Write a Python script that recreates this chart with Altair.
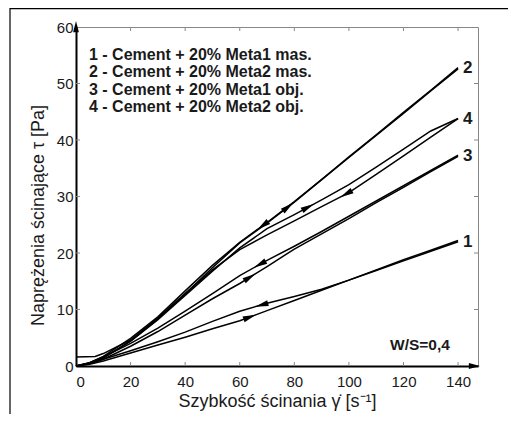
import altair as alt
import numpy as np
import pandas as pd

# ---------------- data ----------------
X = [0, 5, 10, 20, 30, 40, 50, 60, 70, 80, 90, 100, 110, 120, 130, 140]

c1_up = [0, 0.3, 0.9, 2.3, 3.7, 5.1, 6.6, 8.0, 9.8, 11.6, 13.4, 15.2, 16.9, 18.6, 20.3, 22.0]
c1_down = [0, 0.5, 1.2, 2.7, 4.3, 6.0, 7.9, 9.7, 11.1, 12.3, 13.6, 15.2, 17.0, 18.8, 20.5, 22.2]

c2_up = [0, 0.5, 1.5, 4.4, 8.3, 12.8, 17.4, 21.8, 25.3, 29.0, 33.0, 37.0, 40.9, 44.9, 48.8, 52.8]
c2_down = [0, 0.6, 1.7, 4.9, 8.7, 13.3, 17.8, 21.9, 25.4, 29.1, 33.0, 36.9, 40.8, 44.7, 48.7, 52.6]

c3_up = [0, 0.4, 1.2, 3.5, 6.1, 9.0, 11.9, 14.6, 17.6, 20.7, 23.4, 26.1, 28.9, 31.6, 34.4, 37.1]
c3_down = [0, 0.6, 1.6, 4.0, 6.7, 9.7, 12.8, 16.0, 18.7, 21.2, 23.8, 26.5, 29.2, 31.9, 34.6, 37.3]

c4_up = [0, 0.5, 1.4, 4.4, 8.2, 12.5, 16.8, 20.9, 24.3, 26.8, 29.4, 32.1, 35.2, 38.4, 41.6, 43.8]
X4_down = [0, 7, 10, 20, 30, 40, 50, 60, 70, 80, 90, 100, 110, 120, 130, 140]
c4_down = [1.6, 1.7, 2.2, 4.6, 8.5, 12.8, 17.0, 20.6, 23.2, 25.7, 28.2, 30.7, 33.9, 37.2, 40.5, 43.8]

curve_ids = ["1", "2", "3", "4"]
# arrow positions (shear rate) on each branch
arrow_up_x = [63.7, 77.7, 63.7, 85.0]
arrow_down_x = [68.0, 68.5, 67.4, 99.0]

legend_lines = [
    "1 - Cement + 20% Meta1 mas.",
    "2 - Cement + 20% Meta2 mas.",
    "3 - Cement + 20% Meta1 obj.",
    "4 - Cement + 20% Meta2 obj.",
]

X_TICKS = [0, 20, 40, 60, 80, 100, 120, 140]
Y_TICKS = [0, 10, 20, 30, 40, 50, 60]

# ---------------- build tables ----------------
branches = {
    ("1", "up"): (X, c1_up), ("1", "down"): (X, c1_down),
    ("2", "up"): (X, c2_up), ("2", "down"): (X, c2_down),
    ("3", "up"): (X, c3_up), ("3", "down"): (X, c3_down),
    ("4", "up"): (X, c4_up), ("4", "down"): (X4_down, c4_down),
}
rows = []
for (cid, br), (xs_, ys_) in branches.items():
    for xv, yv in zip(xs_, ys_):
        rows.append({"key": cid + br, "x": xv, "y": yv})
df = pd.DataFrame(rows)

W, H = 402, 339
XMAX = 147.3
PXX = W / XMAX
PXY = H / 60.0

arows = []
for i, cid in enumerate(curve_ids):
    for br, ax_ in (("up", arrow_up_x[i]), ("down", arrow_down_x[i])):
        xs_, ys_ = branches[(cid, br)]
        yv = float(np.interp(ax_, xs_, ys_))
        slope = (np.interp(ax_ + 3, xs_, ys_) - np.interp(ax_ - 3, xs_, ys_)) / 6.0
        theta = np.degrees(np.arctan(slope * PXY / PXX))
        ang = (360 - theta) % 360 if br == "up" else (180 - theta) % 360
        arows.append({"x": ax_, "y": yv, "ang": ang})
adf = pd.DataFrame(arows)

ends = pd.DataFrame({
    "x": [140, 140, 140, 140],
    "y": [c1_up[-1], c2_up[-1], c3_up[-1], c4_up[-1]],
    "t": curve_ids,
})

FONT = "Liberation Sans"
xs = alt.Scale(domain=[0, XMAX], nice=False, zero=False)
ys = alt.Scale(domain=[0, 60], nice=False)

lines = alt.Chart(df).mark_line(color="black", strokeWidth=1.5).encode(
    x=alt.X("x:Q", scale=xs, axis=alt.Axis(
        values=X_TICKS, title="Szybkość ścinania \u03b3\u0307 [s\u207b\u00b9]",
        labelPadding=8, titlePadding=3)),
    y=alt.Y("y:Q", scale=ys, axis=alt.Axis(
        values=Y_TICKS, title="Naprężenia ścinające \u03c4 [Pa]",
        labelPadding=3, titlePadding=9, titleY=188)),
    detail="key:N",
    order=alt.Order("x:Q"),
)

ARROW = "M1,0L-1,-0.45L-1,0.45Z"
arrows = alt.Chart(adf).mark_point(
    shape=ARROW, filled=True, color="black", opacity=1, size=180, strokeWidth=0
).encode(
    x=alt.X("x:Q", scale=xs), y=alt.Y("y:Q", scale=ys),
    angle=alt.Angle("ang:Q", scale=None),
)

end_labels = alt.Chart(ends).mark_text(
    align="left", baseline="middle", dx=5, font=FONT, fontWeight="bold",
    fontSize=17, color="#1a1a1a"
).encode(x=alt.X("x:Q", scale=xs), y=alt.Y("y:Q", scale=ys), text="t:N")

one = pd.DataFrame({"a": [0]})
legend_layers = []
for i, line in enumerate(legend_lines):
    legend_layers.append(
        alt.Chart(one).mark_text(
            text=line, align="left", baseline="middle", font=FONT,
            fontWeight="bold", fontSize=16, color="#1a1a1a"
        ).encode(x=alt.value(13), y=alt.value(28 + 17.3 * i))
    )

ws = alt.Chart(one).mark_text(
    text="W/S=0,4", align="left", baseline="middle", font=FONT,
    fontWeight="bold", fontSize=15.5, color="#1a1a1a"
).encode(x=alt.value(314), y=alt.value(318))

# inward ticks on all four sides
xt = pd.DataFrame({"v": X_TICKS[1:]})
yt = pd.DataFrame({"v": Y_TICKS[1:-1]})
TC = "#888888"
t_bot = alt.Chart(xt).mark_rule(color=TC, strokeWidth=1).encode(
    x=alt.X("v:Q", scale=xs), y=alt.value(H), y2=alt.value(H - 4))
t_top = alt.Chart(xt).mark_rule(color=TC, strokeWidth=1).encode(
    x=alt.X("v:Q", scale=xs), y=alt.value(0), y2=alt.value(4))
t_left = alt.Chart(yt).mark_rule(color=TC, strokeWidth=1).encode(
    y=alt.Y("v:Q", scale=ys), x=alt.value(0), x2=alt.value(4))
t_right = alt.Chart(yt).mark_rule(color=TC, strokeWidth=1).encode(
    y=alt.Y("v:Q", scale=ys), x=alt.value(W), x2=alt.value(W - 4))

# axis arrow heads
y_arrow = alt.Chart(one).mark_point(
    shape="M0,-1L0.42,0.6L-0.42,0.6Z", filled=True, color="black",
    opacity=1, size=190, strokeWidth=0
).encode(x=alt.value(0), y=alt.value(1))
x_arrow = alt.Chart(one).mark_point(
    shape="M1,0L-0.6,-0.42L-0.6,0.42Z", filled=True, color="black",
    opacity=1, size=190, strokeWidth=0
).encode(x=alt.value(397), y=alt.value(H))

# outer picture frame (left and top)
frame_l = alt.Chart(one).mark_rule(color="black", strokeWidth=1.2).encode(
    x=alt.value(-66), y=alt.value(-19), y2=alt.value(H + 48))
frame_t = alt.Chart(one).mark_rule(color="black", strokeWidth=1.2).encode(
    x=alt.value(-66), x2=alt.value(W + 30), y=alt.value(-18.4))

chart = alt.layer(
    t_bot, t_top, t_left, t_right, lines, arrows, end_labels, ws,
    *legend_layers, y_arrow, x_arrow, frame_l, frame_t
).properties(
    width=W, height=H,
    padding={"left": 68, "top": 19, "right": 30, "bottom": 48},
    autosize=alt.AutoSizeParams(type="none"),
    background="white",
).configure_view(
    stroke="#888888", strokeWidth=1
).configure_axis(
    labelFont=FONT, labelFontSize=15, labelColor="#1a1a1a",
    titleFont=FONT, titleFontSize=18, titleFontWeight="normal",
    titleColor="#1a1a1a", ticks=False, grid=False,
    domainColor="black", domainWidth=2,
)

chart.save("out.html", embed_options={"renderer": "svg", "actions": False})
